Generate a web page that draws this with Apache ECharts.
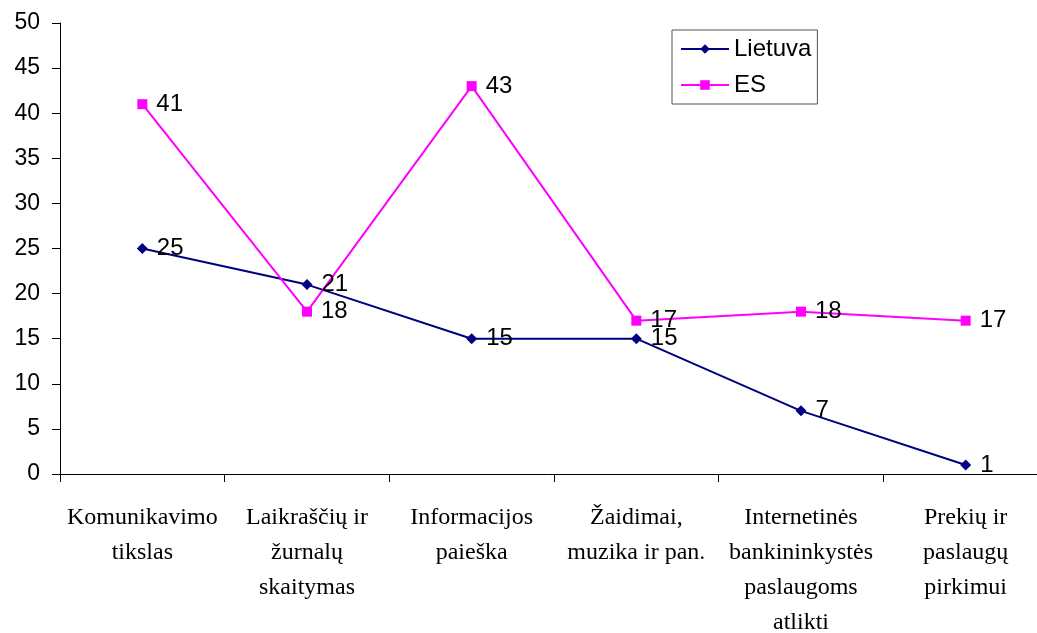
<!DOCTYPE html>
<html>
<head>
<meta charset="utf-8">
<script src="https://cdn.jsdelivr.net/npm/echarts@6/dist/echarts.min.js"></script>
<style>
  html, body { margin: 0; padding: 0; background: #fff; }
  #main { width: 1037px; height: 633px; }
</style>
</head>
<body>
<div id="main"></div>
<script>
var categories = [
  'Komunikavimo\ntikslas',
  'Laikraščių ir\nžurnalų\nskaitymas',
  'Informacijos\npaieška',
  'Žaidimai,\nmuzika ir pan.',
  'Internetinės\nbankininkystės\npaslaugoms\natlikti',
  'Prekių ir\npaslaugų\npirkimui'
];
var lietuva = [25, 21, 15, 15, 7, 1];
var es = [41, 18, 43, 17, 18, 17];

var chart = echarts.init(document.getElementById('main'));

var labelStyle = {
  show: true,
  position: 'right',
  distance: 9,
  color: '#000',
  fontFamily: 'Liberation Sans',
  fontSize: 24
};

chart.setOption({
  animation: false,
  backgroundColor: '#fff',
  grid: { left: 60, top: 23, width: 988, height: 451, outerBoundsMode: 'none' },
  legend: {
    orient: 'vertical',
    left: 672,
    top: 30,
    padding: [7, 6, 7, 8],
    itemGap: 12,
    itemWidth: 48,
    itemHeight: 12,
    borderColor: '#555',
    borderWidth: 1,
    textStyle: { fontFamily: 'Liberation Sans', fontSize: 24, color: '#000' },
    data: ['Lietuva', 'ES']
  },
  xAxis: {
    type: 'category',
    data: categories,
    boundaryGap: true,
    axisLine: { lineStyle: { color: '#000', width: 1 } },
    axisTick: { show: true, length: 8, lineStyle: { color: '#000' } },
    axisLabel: {
      interval: 0,
      margin: 26,
      color: '#000',
      fontFamily: 'Liberation Serif',
      fontSize: 24,
      lineHeight: 35
    },
    splitLine: { show: false }
  },
  yAxis: {
    type: 'value',
    min: 0,
    max: 50,
    interval: 5,
    axisLine: { show: true, lineStyle: { color: '#000', width: 1 } },
    axisTick: { show: true, length: 8, lineStyle: { color: '#000' } },
    axisLabel: {
      margin: 20,
      color: '#000',
      fontFamily: 'Liberation Sans',
      fontSize: 23
    },
    splitLine: { show: false }
  },
  series: [
    {
      name: 'Lietuva',
      type: 'line',
      data: lietuva,
      symbol: 'diamond',
      symbolSize: 11,
      color: '#000080',
      lineStyle: { color: '#000080', width: 2 },
      itemStyle: { color: '#000080' },
      label: labelStyle
    },
    {
      name: 'ES',
      type: 'line',
      data: es,
      symbol: 'rect',
      symbolSize: 10,
      color: '#ff00ff',
      lineStyle: { color: '#ff00ff', width: 2 },
      itemStyle: { color: '#ff00ff' },
      label: labelStyle
    }
  ]
});
</script>
</body>
</html>
